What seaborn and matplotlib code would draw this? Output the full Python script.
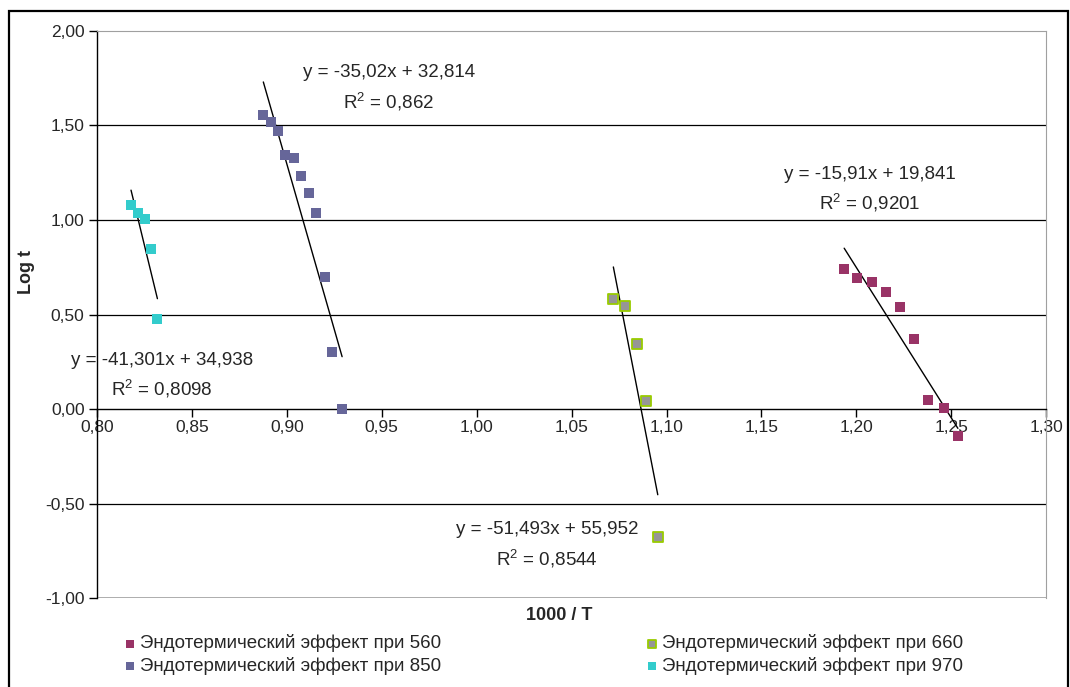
import matplotlib
matplotlib.use("Agg")
import matplotlib.pyplot as plt
import matplotlib.ticker as mticker
from matplotlib.patches import Rectangle
import seaborn as sns
import pandas as pd
import numpy as np

# data (x = 1000/T, y = log t)
x_560 = [1.1936, 1.2006, 1.2083, 1.2155, 1.2232, 1.2303, 1.2380, 1.2461, 1.2535]
y_560 = [0.741, 0.695, 0.670, 0.617, 0.540, 0.372, 0.049, 0.007, -0.143]
x_660 = [1.0720, 1.0782, 1.0842, 1.0894, 1.0954]
y_660 = [0.582, 0.547, 0.345, 0.041, -0.676]
x_850 = [0.8876, 0.8915, 0.8955, 0.8992, 0.9036, 0.9076, 0.9119, 0.9155, 0.9200, 0.9238, 0.9291]
y_850 = [1.554, 1.517, 1.472, 1.344, 1.326, 1.231, 1.143, 1.035, 0.697, 0.302, 0.0]
x_970 = [0.8179, 0.8216, 0.8253, 0.8285, 0.8318]
y_970 = [1.079, 1.037, 1.005, 0.845, 0.476]

# trendline coefficients and R^2 as printed on the chart
slopes = {"560": -15.91, "660": -51.493, "850": -35.02, "970": -41.301}
intercepts = {"560": 19.841, "660": 55.952, "850": 32.814, "970": 34.938}
r2_labels = {"560": "0,9201", "660": "0,8544", "850": "0,862", "970": "0,8098"}
eq_labels = {"560": "y = -15,91x + 19,841", "660": "y = -51,493x + 55,952",
             "850": "y = -35,02x + 32,814", "970": "y = -41,301x + 34,938"}
# where the equation text sits (data coords)
eq_pos = {"560": (1.2073, 1.243), "660": (1.0371, -0.640),
          "850": (0.9536, 1.778), "970": (0.8342, 0.259)}

series = {"560": (x_560, y_560), "660": (x_660, y_660),
          "850": (x_850, y_850), "970": (x_970, y_970)}
fill_colors = {"560": "#993366", "660": "#969696", "850": "#666699", "970": "#33CCCC"}
edge_colors = {"560": "#993366", "660": "#99CC00", "850": "#666699", "970": "#33CCCC"}

sns.set_style("white")
plt.rcParams["font.family"] = ["Liberation Sans", "DejaVu Sans"]
plt.rcParams["mathtext.fontset"] = "custom"
plt.rcParams["mathtext.rm"] = "Liberation Sans"

fig = plt.figure(figsize=(10.7, 6.87), dpi=100)
ax = fig.add_axes([0.0907, 0.1295, 0.887, 0.8254])

for key, (xs, ys) in series.items():
    df = pd.DataFrame({"x": xs, "y": ys})
    sns.scatterplot(data=df, x="x", y="y", ax=ax, marker="s", s=46,
                    color=fill_colors[key], edgecolor=edge_colors[key],
                    linewidth=1.3 if key == "660" else 0,
                    label="Эндотермический эффект при " + key, zorder=4)
    # trendline over data range
    xl = np.array([min(xs), max(xs)])
    ax.plot(xl, slopes[key] * xl + intercepts[key], color="black", lw=1.0, zorder=3)
    ex, ey = eq_pos[key]
    ax.text(ex, ey, eq_labels[key], ha="center", va="center", fontsize=13.5, zorder=5)
    ax.text(ex, ey - 0.153, "R$^{2}$ = " + r2_labels[key], ha="center", va="center",
            fontsize=13.5, zorder=5)

ax.set_xlim(0.80, 1.30)
ax.set_ylim(-1.0, 2.0)
ax.xaxis.set_major_locator(mticker.MultipleLocator(0.05))
ax.yaxis.set_major_locator(mticker.MultipleLocator(0.5))
fmt = mticker.FuncFormatter(lambda v, p: f"{v:.2f}".replace(".", ","))
ax.xaxis.set_major_formatter(fmt)
ax.yaxis.set_major_formatter(fmt)

for yg in [0.5, 1.0, 1.5, -0.5]:
    ax.axhline(yg, color="black", lw=0.9, zorder=1)
ax.axhline(-1.0, color="#a0a0a0", lw=1.2, zorder=1)

ax.spines["bottom"].set_position(("data", 0))
ax.spines["bottom"].set_color("black")
ax.spines["bottom"].set_linewidth(1.0)
ax.spines["left"].set_color("black")
ax.spines["left"].set_linewidth(1.0)
ax.spines["top"].set_color("#a0a0a0")
ax.spines["right"].set_color("#a0a0a0")
ax.tick_params(axis="x", direction="out", length=6, width=1, labelsize=12.5, pad=2, color="black")
ax.tick_params(axis="y", direction="out", length=6, width=1, labelsize=12.5, pad=3, color="black")
ax.tick_params(left=True, bottom=True)

ax.set_xlabel("")
ax.set_ylabel("")
fig.text(0.5224, 0.1048, "1000 / T", ha="center", va="center", fontsize=13, fontweight="bold")
fig.text(0.0252, 0.604, "Log t", ha="center", va="center", fontsize=13,
         fontweight="bold", rotation=90)

h, l = ax.get_legend_handles_labels()
ax.get_legend().remove()
leg_kw = dict(loc="center left", frameon=False, fontsize=13.5, handletextpad=0.15,
              handlelength=0.8, labelspacing=0.22, borderaxespad=0, markerscale=0.85)
leg1 = fig.legend([h[0], h[2]], [l[0], l[2]], bbox_to_anchor=(0.1075, 0.0473), **leg_kw)
leg2 = fig.legend([h[1], h[3]], [l[1], l[3]], bbox_to_anchor=(0.5955, 0.0473), **leg_kw)

fig.patches.append(Rectangle((0.0084, -0.02), 0.9898, 1.004, transform=fig.transFigure,
                             fill=False, edgecolor="black", lw=1.6))

fig.savefig("out.png", dpi=100)
